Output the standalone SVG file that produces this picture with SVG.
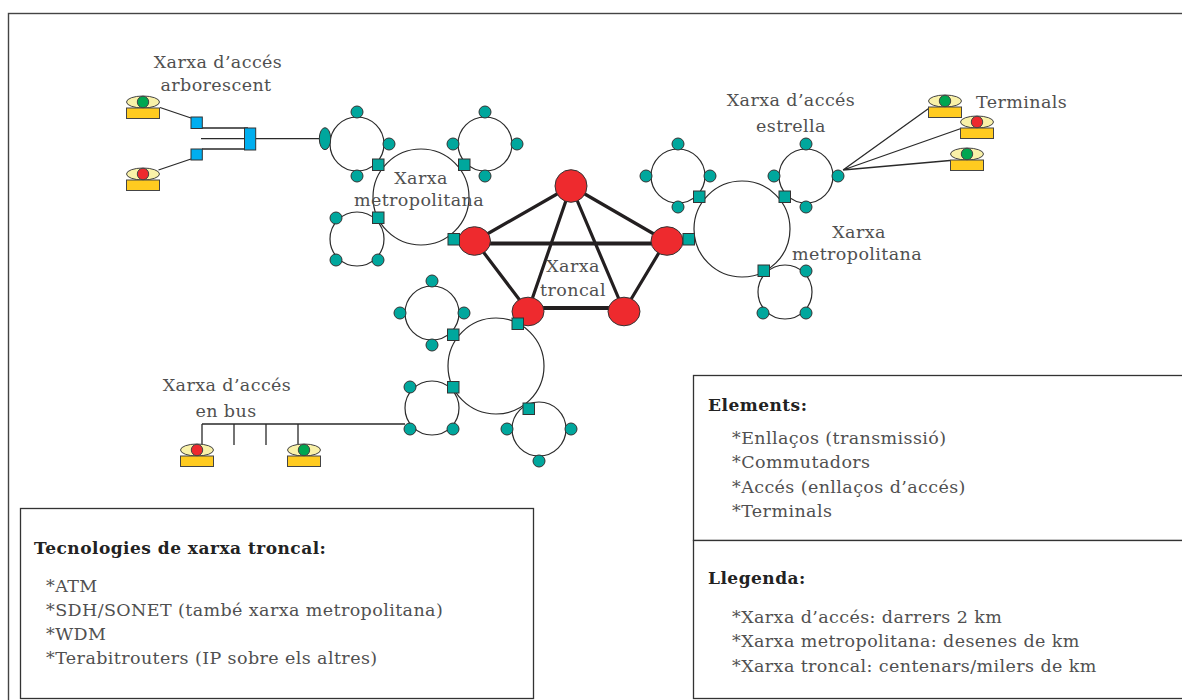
<svg xmlns="http://www.w3.org/2000/svg" width="1182" height="700" viewBox="0 0 1182 700">
<defs>
<style>
.t{font-family:"DejaVu Serif","Liberation Serif",serif;font-size:17.5px;letter-spacing:.4px;fill:#505050}
.m{text-anchor:middle}
.b{font-family:"DejaVu Serif","Liberation Serif",serif;font-size:17px;letter-spacing:.48px;font-weight:700;fill:#222}
.box{fill:#fff;stroke:#333;stroke-width:1.3}
.r{fill:none;stroke:#2a2a2a;stroke-width:1.2}
.l{stroke:#2a2a2a;stroke-width:1.3;fill:none}
.k{stroke:#231f20;stroke-width:3.2;fill:none}
.k2{stroke:#231f20;stroke-width:4;fill:none}
.n{fill:#00a79d;stroke:#333;stroke-width:1}
.sq{fill:#00a79d;stroke:#333;stroke-width:1}
.red{fill:#ee2a2e;stroke:#333;stroke-width:1}
.blue{fill:#00aeef;stroke:#333;stroke-width:1}
.base{fill:#ffcb20;stroke:#444;stroke-width:1}
.top{fill:#f9f1a8;stroke:#444;stroke-width:1}
.gd{fill:#00a651;stroke:#444;stroke-width:1}
.rd{fill:#ee2a2e;stroke:#444;stroke-width:1}
</style>
<g id="ring"><circle r="27" class="r"/></g>
<g id="term-g"><ellipse cx="0" cy="-1" rx="16.5" ry="6" class="top"/><rect x="-16.5" y="5" width="33" height="10.500" class="base"/><circle cy="-1" r="5.700" class="gd"/></g>
<g id="term-r"><ellipse cx="0" cy="-1" rx="16.5" ry="6" class="top"/><rect x="-16.5" y="5" width="33" height="10.500" class="base"/><circle cy="-1" r="5.700" class="rd"/></g>
</defs>
<rect x="8.500" y="13.500" width="1180" height="690" fill="#fff" stroke="#444" stroke-width="1.400"/>
<g id="connectors">
<path class="k" d="M571 186L475 241M571 186L666 241M571 186L528 311M571 186L624 311M475 241L528 311M666 241L624 311"/>
<path class="k2" d="M475 243.500H666M528 308H624"/>
<path class="l" d="M160 107.500L191 118M158.500 170L191 159M202 128H248M201 138.700H248M202 149H248M256 138.700H320"/>
<path class="l" d="M843 170L930 107.500M843 170L961 128.500M843 170L950 160.500"/>
<path class="l" d="M202 424H405M202 424V445M234 424V445M266 424V445M298 424V445"/>
</g>
<g id="metro-nw"><circle cx="421" cy="197" r="48" class="r"/></g>
<g id="metro-e"><circle cx="742" cy="229" r="48" class="r"/></g>
<g id="metro-s"><circle cx="496" cy="366" r="48" class="r"/></g>
<g id="ring-1"><use href="#ring" x="357" y="144"/><circle cx="357" cy="112" r="6" class="n"/><circle cx="389" cy="144" r="6" class="n"/><circle cx="357" cy="176" r="6" class="n"/><ellipse cx="325" cy="138.700" rx="5.700" ry="11" class="n"/></g>
<g id="ring-2"><use href="#ring" x="485" y="144"/><circle cx="485" cy="112" r="6" class="n"/><circle cx="517" cy="144" r="6" class="n"/><circle cx="453" cy="144" r="6" class="n"/><circle cx="485" cy="176" r="6" class="n"/></g>
<g id="ring-3"><use href="#ring" x="357" y="239"/><circle cx="336" cy="218" r="6" class="n"/><circle cx="336" cy="260" r="6" class="n"/><circle cx="378" cy="260" r="6" class="n"/></g>
<g id="ring-4"><use href="#ring" x="678" y="176"/><circle cx="678" cy="144" r="6" class="n"/><circle cx="710" cy="176" r="6" class="n"/><circle cx="646" cy="176" r="6" class="n"/><circle cx="678" cy="207" r="6" class="n"/></g>
<g id="ring-5"><use href="#ring" x="806" y="176"/><circle cx="806" cy="144" r="6" class="n"/><circle cx="838" cy="176" r="6" class="n"/><circle cx="774" cy="176" r="6" class="n"/><circle cx="806" cy="207" r="6" class="n"/></g>
<g id="ring-6"><use href="#ring" x="785" y="292"/><circle cx="806" cy="271" r="6" class="n"/><circle cx="763" cy="313" r="6" class="n"/><circle cx="806" cy="313" r="6" class="n"/></g>
<g id="ring-7"><use href="#ring" x="432" y="313"/><circle cx="432" cy="281" r="6" class="n"/><circle cx="464" cy="313" r="6" class="n"/><circle cx="400" cy="313" r="6" class="n"/><circle cx="432" cy="345" r="6" class="n"/></g>
<g id="ring-8"><use href="#ring" x="432" y="408"/><circle cx="410" cy="387" r="6" class="n"/><circle cx="410" cy="429" r="6" class="n"/><circle cx="453" cy="429" r="6" class="n"/></g>
<g id="ring-9"><use href="#ring" x="539" y="429"/><circle cx="507" cy="429" r="6" class="n"/><circle cx="571" cy="429" r="6" class="n"/><circle cx="539" cy="461" r="6" class="n"/></g>
<g id="troncal">
<ellipse cx="571" cy="186" rx="16" ry="16.300" class="red"/>
<ellipse cx="474.500" cy="241" rx="16" ry="14.300" class="red"/>
<ellipse cx="667" cy="241" rx="16" ry="14.300" class="red"/>
<ellipse cx="528" cy="311.500" rx="16" ry="14.300" class="red"/>
<ellipse cx="624" cy="311.500" rx="16" ry="14.300" class="red"/>
</g>
<g id="gateways">
<rect x="372.500" y="159" width="11.500" height="11.500" class="sq"/>
<rect x="458.500" y="159" width="11.500" height="11.500" class="sq"/>
<rect x="372.500" y="212" width="11.500" height="11.500" class="sq"/>
<rect x="448" y="233.500" width="11.500" height="11.500" class="sq"/>
<rect x="683" y="233.500" width="11.500" height="11.500" class="sq"/>
<rect x="693.500" y="191" width="11.500" height="11.500" class="sq"/>
<rect x="779" y="191" width="11.500" height="11.500" class="sq"/>
<rect x="758" y="265" width="11.500" height="11.500" class="sq"/>
<rect x="512" y="318" width="11.500" height="11.500" class="sq"/>
<rect x="447.500" y="329" width="11.500" height="11.500" class="sq"/>
<rect x="447.500" y="381.500" width="11.500" height="11.500" class="sq"/>
<rect x="523" y="403" width="11.500" height="11.500" class="sq"/>
</g>
<g id="tree-switches">
<rect x="191" y="117" width="11.300" height="11.500" class="blue"/>
<rect x="191" y="149" width="11.300" height="11" class="blue"/>
<rect x="244.500" y="128" width="11.200" height="22" class="blue"/>
</g>
<g id="terminals">
<use href="#term-g" x="143" y="103"/>
<use href="#term-r" x="143" y="175"/>
<use href="#term-g" x="945" y="102"/>
<use href="#term-r" x="977" y="123"/>
<use href="#term-g" x="967" y="155"/>
<use href="#term-r" x="197" y="451"/>
<use href="#term-g" x="304" y="451"/>
</g>
<g id="labels">
<text class="t m" x="218" y="68">Xarxa d’accés</text>
<text class="t m" x="216" y="91">arborescent</text>
<text class="t m" x="421" y="184">Xarxa</text>
<text class="t m" x="419" y="206">metropolitana</text>
<text class="t m" x="791" y="106">Xarxa d’accés</text>
<text class="t m" x="791" y="132">estrella</text>
<text class="t" x="976" y="108">Terminals</text>
<text class="t m" x="859" y="238">Xarxa</text>
<text class="t m" x="857" y="260">metropolitana</text>
<text class="t m" x="573" y="272">Xarxa</text>
<text class="t m" x="573" y="296">troncal</text>
<text class="t m" x="227" y="391">Xarxa d’accés</text>
<text class="t m" x="226" y="417">en bus</text>
</g>
<g id="box-tecnologies">
<rect x="20.500" y="508.500" width="513" height="190" class="box"/>
<text class="b" x="34" y="554">Tecnologies de xarxa troncal:</text>
<text class="t" x="46" y="592">*ATM</text>
<text class="t" x="46" y="616">*SDH/SONET (també xarxa metropolitana)</text>
<text class="t" x="46" y="640">*WDM</text>
<text class="t" x="46" y="664">*Terabitrouters (IP sobre els altres)</text>
</g>
<g id="box-elements">
<rect x="693.500" y="375.500" width="495" height="165" class="box"/>
<text class="b" x="708" y="411">Elements:</text>
<text class="t" x="732" y="444">*Enllaços (transmissió)</text>
<text class="t" x="732" y="468">*Commutadors</text>
<text class="t" x="732" y="493">*Accés (enllaços d’accés)</text>
<text class="t" x="732" y="517">*Terminals</text>
</g>
<g id="box-llegenda">
<rect x="693.500" y="540.500" width="495" height="158" class="box"/>
<text class="b" x="708" y="584">Llegenda:</text>
<text class="t" x="732" y="623">*Xarxa d’accés: darrers 2 km</text>
<text class="t" x="732" y="647">*Xarxa metropolitana: desenes de km</text>
<text class="t" x="732" y="672">*Xarxa troncal: centenars/milers de km</text>
</g>
</svg>
